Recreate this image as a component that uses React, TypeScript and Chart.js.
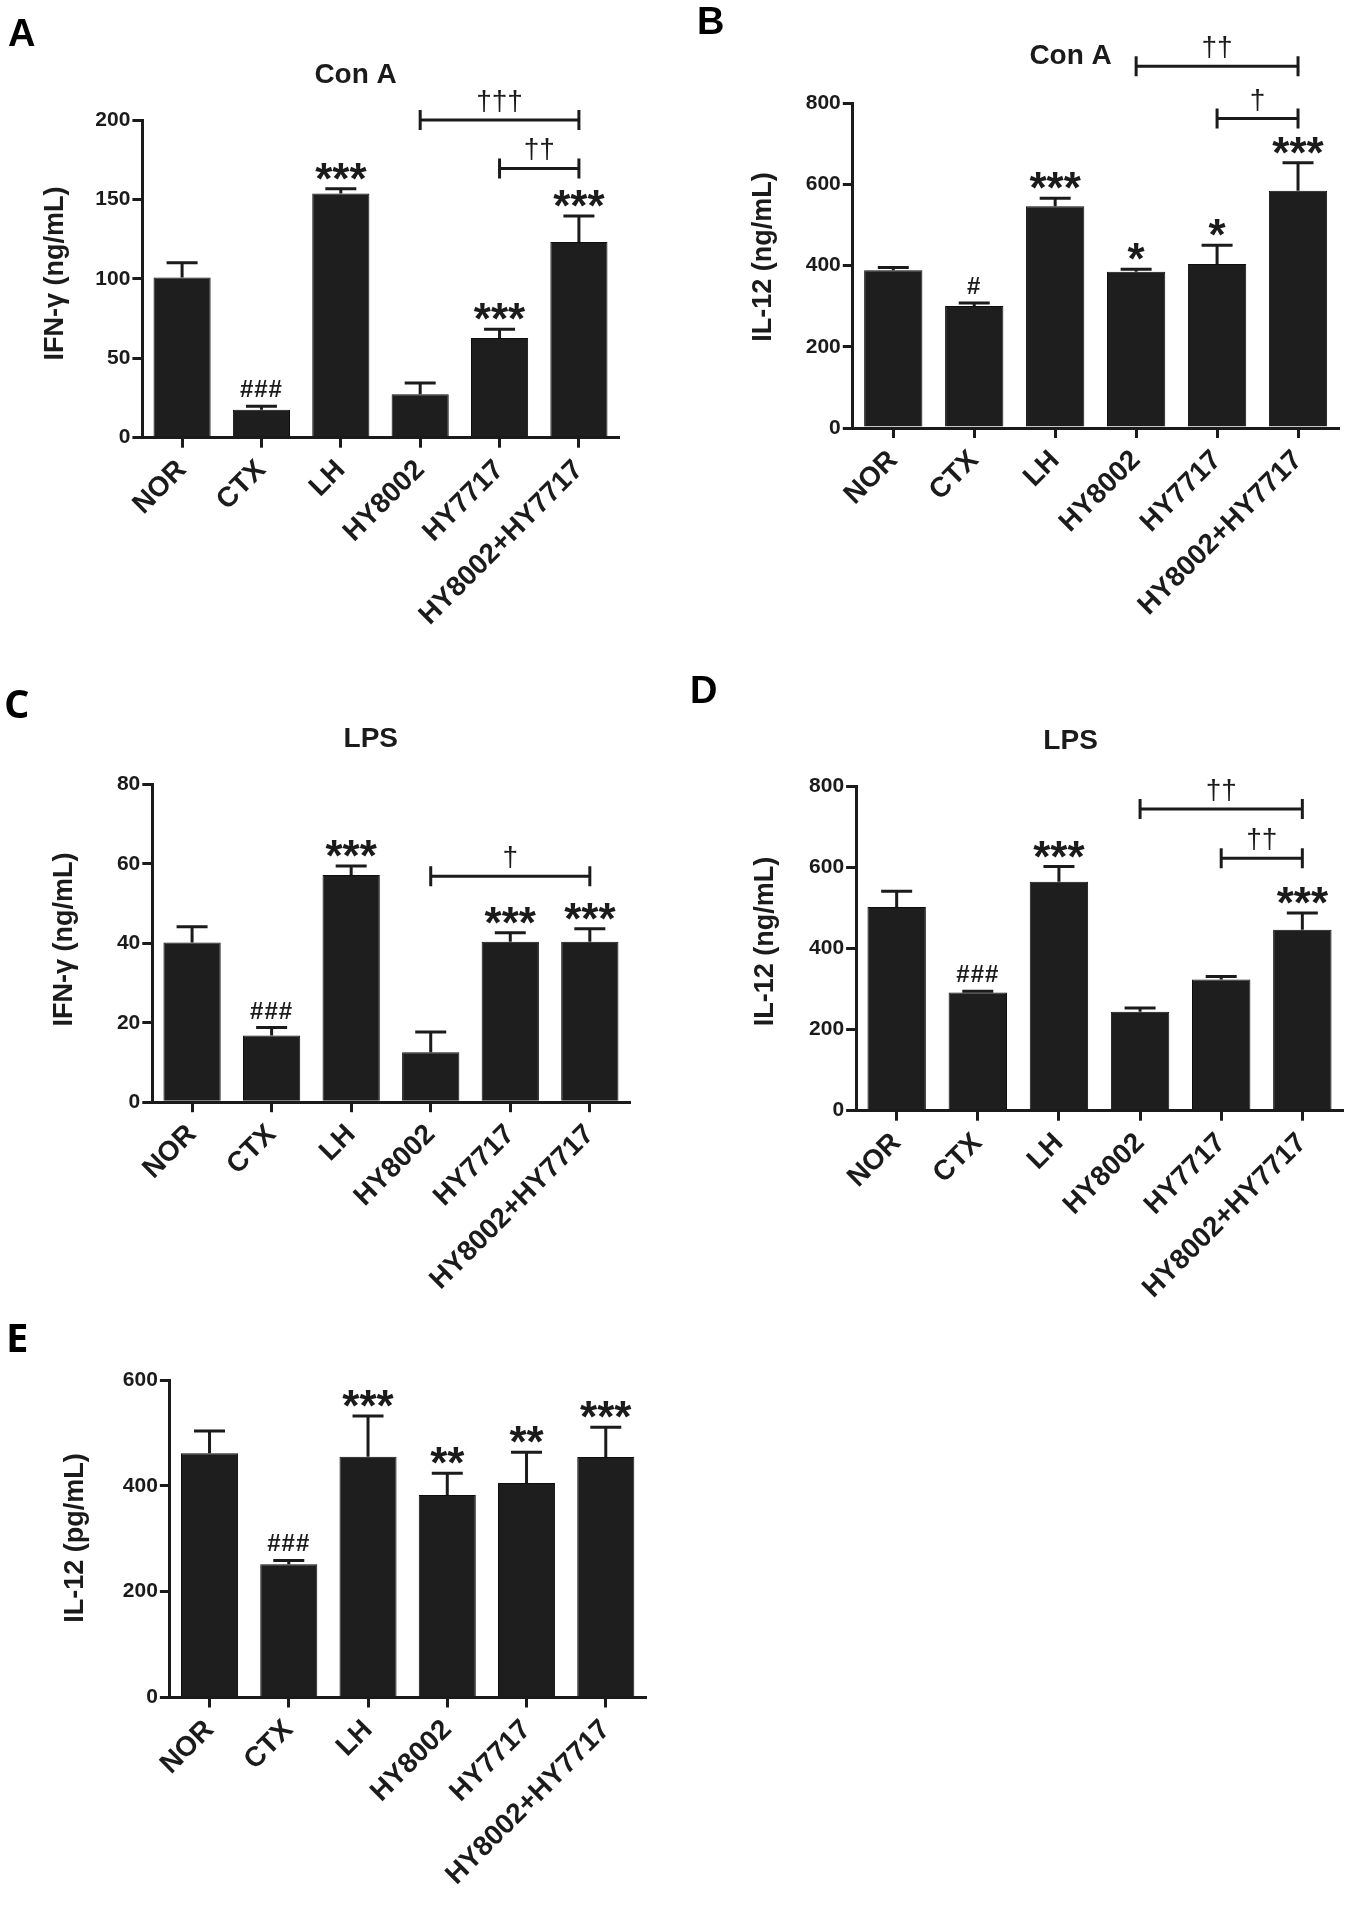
import React, { useEffect, useRef } from 'react';
import { Chart, registerables } from 'chart.js';

Chart.register(...registerables);

// ---------- data ----------
const groups = ['NOR', 'CTX', 'LH', 'HY8002', 'HY7717', 'HY8002+HY7717'];

// A: Con A, IFN-γ
const conAIfnTicks = [0, 50, 100, 150, 200];
const conAIfnMean = [100.8, 17.6, 153.7, 27.3, 62.8, 123.2];
const conAIfnSem = [9.3, 2.2, 3.0, 7.1, 5.5, 16.4];
const conAIfnMarks = ['', '###', '***', '', '***', '***'];
const conAIfnBrackets = [
  { from: 3, to: 5, level: 200, label: '†††' },
  { from: 4, to: 5, level: 169.5, label: '††' },
];

// B: Con A, IL-12
const conAIl12Ticks = [0, 200, 400, 600, 800];
const conAIl12Mean = [388.6, 300.5, 546, 384.5, 404, 584];
const conAIl12Sem = [6.4, 7.5, 20, 6.5, 46, 69];
const conAIl12Marks = ['', '#', '***', '*', '*', '***'];
const conAIl12Brackets = [
  { from: 3, to: 5, level: 891, label: '††' },
  { from: 4, to: 5, level: 762, label: '†' },
];

// C: LPS, IFN-γ
const lpsIfnTicks = [0, 20, 40, 60, 80];
const lpsIfnMean = [40.2, 16.8, 57.2, 12.6, 40.4, 40.4];
const lpsIfnSem = [4.0, 2.0, 2.3, 5.1, 2.3, 3.3];
const lpsIfnMarks = ['', '###', '***', '', '***', '***'];
const lpsIfnBrackets = [{ from: 3, to: 5, level: 56.9, label: '†' }];

// D: LPS, IL-12
const lpsIl12Ticks = [0, 200, 400, 600, 800];
const lpsIl12Mean = [502.9, 292, 565, 244, 324, 446.8];
const lpsIl12Sem = [39, 3, 37.6, 9.5, 7, 41.2];
const lpsIl12Marks = ['', '###', '***', '', '', '***'];
const lpsIl12Brackets = [
  { from: 3, to: 5, level: 745, label: '††' },
  { from: 4, to: 5, level: 623, label: '††' },
];

// E: IL-12 (pg/mL)
const il12PgTicks = [0, 200, 400, 600];
const il12PgMean = [461.5, 252, 455, 382.7, 405.4, 454.4];
const il12PgSem = [42.5, 7, 77, 41.3, 58.2, 56.6];
const il12PgMarks = ['', '###', '***', '**', '**', '***'];
const il12PgBrackets: { from: number; to: number; level: number; label: string }[] = [];

// ---------- style ----------
const SANS = '"Liberation Sans", Arial, Helvetica, sans-serif';
const OPEN = '"Open Sans", "Liberation Sans", Arial, sans-serif';
const INK = '#1b1b1b';
const BAR = '#1e1e1e';
const YW = 60;

type Bracket = { from: number; to: number; level: number; label: string };
type PanelDef = {
  key: string;
  left: number;
  top: number;
  width: number;
  height: number;
  area: { l: number; r: number; t: number; b: number };
  ticks: number[];
  mean: number[];
  sem: number[];
  marks: string[];
  brackets: Bracket[];
  title: string;
  titlePos: [number, number];
  yTitle: string;
  yTitlePos: [number, number];
  label: string;
  labelPos: [number, number];
  labelFont: string;
};

const panels: PanelDef[] = [
  {
    key: 'A', left: 0, top: 0, width: 680, height: 670,
    area: { l: 142.4, r: 618.6, t: 120, b: 437.7 },
    ticks: conAIfnTicks, mean: conAIfnMean, sem: conAIfnSem, marks: conAIfnMarks, brackets: conAIfnBrackets,
    title: 'Con A', titlePos: [355.6, 73.7],
    yTitle: 'IFN-γ (ng/mL)', yTitlePos: [56.4, 273.6],
    label: 'A', labelPos: [8, 46], labelFont: `bold 38px ${SANS}`,
  },
  {
    key: 'B', left: 680, top: 0, width: 673, height: 670,
    area: { l: 172.8, r: 658.5, t: 103.1, b: 428 },
    ticks: conAIl12Ticks, mean: conAIl12Mean, sem: conAIl12Sem, marks: conAIl12Marks, brackets: conAIl12Brackets,
    title: 'Con A', titlePos: [390.6, 54.7],
    yTitle: 'IL-12 (ng/mL)', yTitlePos: [83.7, 257],
    label: 'B', labelPos: [17, 34], labelFont: `bold 38px ${SANS}`,
  },
  {
    key: 'C', left: 0, top: 660, width: 680, height: 660,
    area: { l: 152.3, r: 629.6, t: 124.5, b: 442.2 },
    ticks: lpsIfnTicks, mean: lpsIfnMean, sem: lpsIfnSem, marks: lpsIfnMarks, brackets: lpsIfnBrackets,
    title: 'LPS', titlePos: [370.8, 77.3],
    yTitle: 'IFN-γ (ng/mL)', yTitlePos: [65, 279.4],
    label: 'C', labelPos: [4, 58], labelFont: `bold 40px ${OPEN}`,
  },
  {
    key: 'D', left: 680, top: 660, width: 673, height: 700,
    area: { l: 176.1, r: 662.9, t: 126.6, b: 450.7 },
    ticks: lpsIl12Ticks, mean: lpsIl12Mean, sem: lpsIl12Sem, marks: lpsIl12Marks, brackets: lpsIl12Brackets,
    title: 'LPS', titlePos: [390.6, 79.4],
    yTitle: 'IL-12 (ng/mL)', yTitlePos: [85.8, 281.5],
    label: 'D', labelPos: [10, 43], labelFont: `bold 38px ${SANS}`,
  },
  {
    key: 'E', left: 0, top: 1320, width: 680, height: 589,
    area: { l: 169.9, r: 645.4, t: 60.1, b: 377.5 },
    ticks: il12PgTicks, mean: il12PgMean, sem: il12PgSem, marks: il12PgMarks, brackets: il12PgBrackets,
    title: '', titlePos: [0, 0],
    yTitle: 'IL-12 (pg/mL)', yTitlePos: [75.9, 217.9],
    label: 'E', labelPos: [6, 32], labelFont: `bold 40px ${OPEN}`,
  },
];

function markFont(mark: string) {
  if (mark.startsWith('*')) return { font: `bold 44px ${SANS}`, spacing: '0px' };
  if (mark.startsWith('#')) return { font: `bold 24px ${SANS}`, spacing: '1px' };
  return { font: `28px ${SANS}`, spacing: '0px' };
}

function drawAboveAt(ctx: CanvasRenderingContext2D, text: string, cx: number, bottom: number) {
  const f = markFont(text);
  ctx.font = f.font;
  (ctx as any).letterSpacing = f.spacing;
  ctx.textAlign = 'center';
  ctx.textBaseline = 'alphabetic';
  const m = ctx.measureText(text);
  const baseline = bottom - m.actualBoundingBoxDescent;
  ctx.fillText(text, cx, baseline);
  (ctx as any).letterSpacing = '0px';
}

function drawCentered(ctx: CanvasRenderingContext2D, text: string, cx: number, cy: number) {
  ctx.textAlign = 'center';
  ctx.textBaseline = 'alphabetic';
  const m = ctx.measureText(text);
  const baseline = cy + (m.actualBoundingBoxAscent - m.actualBoundingBoxDescent) / 2;
  ctx.fillText(text, cx, baseline);
}

function makeDecor(p: PanelDef) {
  return {
    id: 'decor' + p.key,
    afterDatasetsDraw(chart: any) {
      const ctx: CanvasRenderingContext2D = chart.ctx;
      const ys = chart.scales.y;
      const meta = chart.getDatasetMeta(0);
      ctx.save();
      ctx.strokeStyle = INK;
      ctx.fillStyle = INK;
      ctx.lineWidth = 3;
      ctx.lineCap = 'butt';
      p.mean.forEach((m, i) => {
        const x = meta.data[i].x;
        const yb = ys.getPixelForValue(m);
        const ye = ys.getPixelForValue(m + p.sem[i]);
        ctx.beginPath();
        ctx.moveTo(x, yb);
        ctx.lineTo(x, ye);
        ctx.moveTo(x - 15.5, ye);
        ctx.lineTo(x + 15.5, ye);
        ctx.stroke();
        if (p.marks[i]) drawAboveAt(ctx, p.marks[i], x, ye - 9);
      });
      p.brackets.forEach((b) => {
        const x1 = meta.data[b.from].x;
        const x2 = meta.data[b.to].x;
        const y = ys.getPixelForValue(b.level);
        ctx.beginPath();
        ctx.moveTo(x1, y);
        ctx.lineTo(x2, y);
        ctx.moveTo(x1, y - 10);
        ctx.lineTo(x1, y + 10);
        ctx.moveTo(x2, y - 10);
        ctx.lineTo(x2, y + 10);
        ctx.stroke();
        drawAboveAt(ctx, b.label, (x1 + x2) / 2, y - 8);
      });
      ctx.restore();
    },
    afterDraw(chart: any) {
      const ctx: CanvasRenderingContext2D = chart.ctx;
      ctx.save();
      ctx.fillStyle = INK;
      if (p.title) {
        ctx.font = `bold 28px ${SANS}`;
        drawCentered(ctx, p.title, p.titlePos[0], p.titlePos[1]);
      }
      ctx.save();
      ctx.translate(p.yTitlePos[0], p.yTitlePos[1]);
      ctx.rotate(-Math.PI / 2);
      ctx.font = `bold 27px ${SANS}`;
      drawCentered(ctx, p.yTitle, 0, 0);
      ctx.restore();
      ctx.fillStyle = '#000';
      ctx.font = p.labelFont;
      ctx.textAlign = 'left';
      ctx.textBaseline = 'alphabetic';
      ctx.fillText(p.label, p.labelPos[0], p.labelPos[1]);
      ctx.restore();
    },
  };
}

function Panel({ p }: { p: PanelDef }) {
  const ref = useRef<HTMLCanvasElement | null>(null);
  useEffect(() => {
    if (!ref.current) return;
    const xH = p.height - p.area.b;
    const chart = new Chart(ref.current, {
      type: 'bar',
      data: {
        labels: groups,
        datasets: [
          {
            data: p.mean,
            backgroundColor: BAR,
            borderColor: '#0d0d0d',
            borderWidth: 1,
            barPercentage: 0.72,
            categoryPercentage: 1,
          },
        ],
      },
      options: {
        responsive: false,
        animation: false,
        devicePixelRatio: 1,
        layout: {
          padding: { left: p.area.l - YW, top: p.area.t, right: p.width - p.area.r, bottom: 0 },
        },
        plugins: {
          legend: { display: false },
          tooltip: { enabled: false },
          title: { display: false },
        },
        scales: {
          x: {
            type: 'category',
            offset: true,
            grid: {
              display: true,
              drawOnChartArea: false,
              drawTicks: true,
              tickLength: 10,
              offset: false,
              color: INK,
              lineWidth: 3,
            },
            border: { display: true, color: INK, width: 3 },
            ticks: {
              autoSkip: false,
              minRotation: 45,
              maxRotation: 45,
              padding: 6,
              color: INK,
              font: { family: SANS, size: 28, weight: 'bold' },
            },
            afterFit: (s: any) => {
              s.height = xH;
            },
          },
          y: {
            min: p.ticks[0],
            max: p.ticks[p.ticks.length - 1],
            grid: {
              display: true,
              drawOnChartArea: false,
              drawTicks: true,
              tickLength: 10,
              color: INK,
              lineWidth: 3,
            },
            border: { display: true, color: INK, width: 3 },
            ticks: {
              stepSize: p.ticks[1] - p.ticks[0],
              padding: 2,
              color: INK,
              font: { family: SANS, size: 21, weight: 'bold' },
            },
            afterFit: (s: any) => {
              s.width = YW;
            },
          },
        },
      } as any,
      plugins: [makeDecor(p)],
    });
    return () => chart.destroy();
  }, [p]);
  return (
    <canvas
      ref={ref}
      width={p.width}
      height={p.height}
      style={{ position: 'absolute', left: p.left, top: p.top, width: p.width, height: p.height }}
    />
  );
}

export default function App() {
  useEffect(() => {
    document.body.style.margin = '0';
    document.body.style.background = '#ffffff';
  }, []);
  return (
    <div style={{ position: 'relative', width: 1353, height: 1909, background: '#ffffff', overflow: 'hidden' }}>
      {panels.map((p) => (
        <Panel key={p.key} p={p} />
      ))}
    </div>
  );
}
